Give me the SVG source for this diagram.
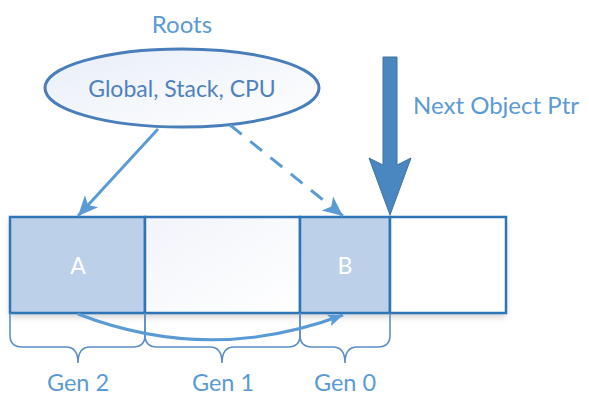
<svg xmlns="http://www.w3.org/2000/svg" width="589" height="409" viewBox="0 0 589 409">
<defs>
<style>
.lbl{font-family:Lato,"Open Sans","Liberation Sans",sans-serif;fill:#5b9bd5;text-anchor:middle}
.box{stroke:#2e75b6;stroke-width:2.5}
.brace{fill:none;stroke:#5b8fc9;stroke-width:1.6}
.conn{fill:none;stroke:#5b9bd5;stroke-width:3}
</style>
<linearGradient id="eg" x1="0" y1="0" x2="1" y2="1">
<stop offset="0" stop-color="#e8eef8"/>
<stop offset="1" stop-color="#ffffff"/>
</linearGradient>
<linearGradient id="g1" x1="0" y1="0" x2="1" y2="1">
<stop offset="0" stop-color="#f1f4fa"/>
<stop offset="1" stop-color="#ffffff"/>
</linearGradient>
<filter id="sh" x="-10%" y="-10%" width="120%" height="130%">
<feDropShadow dx="0" dy="4" stdDeviation="3" flood-color="#000" flood-opacity="0.18"/>
</filter>
<marker id="ah" markerUnits="userSpaceOnUse" markerWidth="22" markerHeight="22" viewBox="0 0 22 22" refX="20" refY="11" orient="auto">
<path d="M0,2 L20,11 L0,20 L5,11 Z" fill="#5b9bd5"/>
</marker>
<marker id="ahs" markerUnits="userSpaceOnUse" markerWidth="16" markerHeight="16" viewBox="0 0 16 16" refX="15" refY="8" orient="auto">
<path d="M0,2 L15,8 L0,14 L3,8 Z" fill="#5b9bd5"/>
</marker>
</defs>

<g id="heap" filter="url(#sh)">
<rect x="10" y="217" width="496" height="96" fill="#fff"/>
</g>
<g id="boxA">
<rect class="box" x="10" y="217" width="135" height="96" fill="#bcd0ea"/>
<text x="78" y="274" font-family="Lato,'Open Sans','Liberation Sans',sans-serif" font-size="23" fill="#fff" text-anchor="middle">A</text>
</g>
<g id="boxGen1">
<rect class="box" x="145" y="217" width="155" height="96" fill="url(#g1)"/>
</g>
<g id="boxB">
<rect class="box" x="300" y="217" width="90" height="96" fill="#bcd0ea"/>
<text x="345" y="274" font-family="Lato,'Open Sans','Liberation Sans',sans-serif" font-size="23" fill="#fff" text-anchor="middle">B</text>
</g>
<g id="boxFree">
<rect class="box" x="390" y="217" width="116" height="96" fill="#fff"/>
</g>

<g id="roots">
<text class="lbl" x="182" y="33" font-size="24">Roots</text>
<ellipse cx="182" cy="88" rx="137" ry="39" fill="url(#eg)" stroke="#4a7ebb" stroke-width="3"/>
<text x="182" y="97" font-family="Lato,'Open Sans','Liberation Sans',sans-serif" font-size="23" fill="#4f81bd" text-anchor="middle">Global, Stack, CPU</text>
</g>

<g id="nextptr">
<polygon points="383,57 397,57 397,165 411,158 390,215 369,158 383,165" fill="#4a86c0" stroke="#41719c" stroke-width="1"/>
<text class="lbl" x="496" y="114" font-size="24">Next Object Ptr</text>
</g>

<g id="gen2">
<path class="brace" d="M10,313 V335 Q10,347 22,347 H66 Q78,347 78,363 Q78,347 90,347 H133 Q145,347 145,335 V313"/>
<text class="lbl" x="78" y="391" font-size="23.5">Gen 2</text>
</g>
<g id="gen1">
<path class="brace" d="M145,313 V335 Q145,347 157,347 H210 Q222,347 222,363 Q222,347 234,347 H288 Q300,347 300,335 V313"/>
<text class="lbl" x="223" y="391" font-size="23.5">Gen 1</text>
</g>
<g id="gen0">
<path class="brace" d="M300,313 V335 Q300,347 312,347 H333 Q345,347 345,363 Q345,347 357,347 H378 Q390,347 390,335 V313"/>
<text class="lbl" x="345" y="391" font-size="23.5">Gen 0</text>
</g>

<g id="connectors">
<path class="conn" d="M158,129 L78,216" marker-end="url(#ah)"/>
<path class="conn" d="M230,125 L343,216" stroke-dasharray="15,11" marker-end="url(#ah)"/>
<path class="conn" d="M78,314 Q210,365 343,315" stroke-width="2.2" marker-end="url(#ahs)"/>
</g>
</svg>
